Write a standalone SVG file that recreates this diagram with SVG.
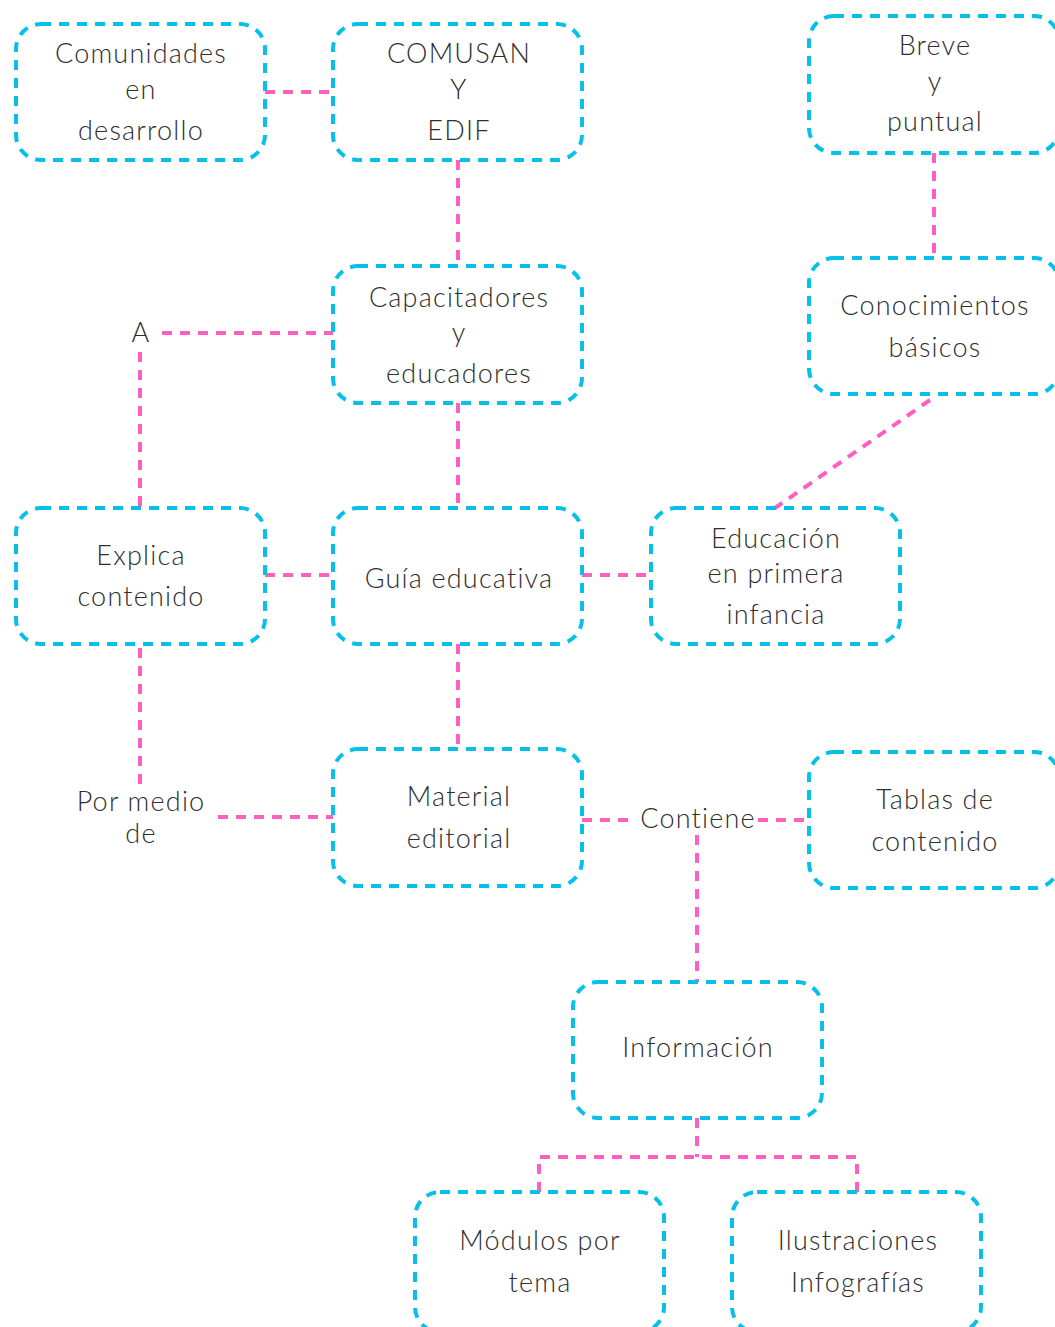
<svg xmlns="http://www.w3.org/2000/svg" width="1055" height="1327" viewBox="0 0 1055 1327">
<style>
.box{fill:none;stroke:#06c0ea;stroke-width:4;stroke-dasharray:10 8}
.con{fill:none;stroke:#ff5fc0;stroke-width:4;stroke-dasharray:10 8}
text{font-family:Lato,"Liberation Sans",sans-serif;font-weight:300;font-size:27px;letter-spacing:1.2px;fill:#2e2e2e;text-anchor:middle}
</style>
<rect width="1055" height="1327" fill="#ffffff"/>
<g id="connectors">
<path class="con" d="M265 92H333"/>
<path class="con" d="M458 160V266"/>
<path class="con" d="M934 153V258"/>
<path class="con" d="M162 333H333"/>
<path class="con" d="M140 352V508"/>
<path class="con" d="M458 403V508"/>
<path class="con" d="M265 575H333"/>
<path class="con" d="M582 575H651"/>
<path class="con" d="M930 400L775 508"/>
<path class="con" d="M140 648V785"/>
<path class="con" d="M218 817H333"/>
<path class="con" d="M458 644V749"/>
<path class="con" d="M582 820H635"/>
<path class="con" d="M758 820H809"/>
<path class="con" d="M697 835V982"/>
<path class="con" d="M697 1118V1157"/>
<path class="con" d="M539 1192V1157H857V1192"/>
</g>
<g id="n-comunidades"><rect class="box" x="16" y="24" width="249" height="136" rx="25"/><text x="141" y="63">Comunidades</text><text x="141" y="99">en</text><text x="141" y="140">desarrollo</text></g>
<g id="n-comusan"><rect class="box" x="333" y="24" width="249" height="136" rx="25"/><text x="459" y="63">COMUSAN</text><text x="459" y="99">Y</text><text x="459" y="140">EDIF</text></g>
<g id="n-breve"><rect class="box" x="809" y="16" width="250" height="137" rx="25"/><text x="935" y="55">Breve</text><text x="935" y="91">y</text><text x="935" y="131">puntual</text></g>
<g id="n-capacitadores"><rect class="box" x="333" y="266" width="249" height="137" rx="25"/><text x="459" y="307">Capacitadores</text><text x="459" y="342">y</text><text x="459" y="383">educadores</text></g>
<g id="n-conocimientos"><rect class="box" x="809" y="258" width="250" height="136" rx="25"/><text x="935" y="315">Conocimientos</text><text x="935" y="357">básicos</text></g>
<g id="n-a"><text x="141" y="342">A</text></g>
<g id="n-explica"><rect class="box" x="16" y="508" width="249" height="136" rx="25"/><text x="141" y="565">Explica</text><text x="141" y="606">contenido</text></g>
<g id="n-guia"><rect class="box" x="333" y="508" width="249" height="136" rx="25"/><text x="459" y="588">Guía educativa</text></g>
<g id="n-educacion"><rect class="box" x="651" y="508" width="249" height="136" rx="25"/><text x="776" y="548">Educación</text><text x="776" y="583">en primera</text><text x="776" y="624">infancia</text></g>
<g id="n-pormedio"><text x="141" y="811">Por medio</text><text x="141" y="843">de</text></g>
<g id="n-material"><rect class="box" x="333" y="749" width="249" height="137" rx="25"/><text x="459" y="806">Material</text><text x="459" y="848">editorial</text></g>
<g id="n-contiene"><text x="698" y="828">Contiene</text></g>
<g id="n-tablas"><rect class="box" x="809" y="752" width="250" height="136" rx="25"/><text x="935" y="809">Tablas de</text><text x="935" y="851">contenido</text></g>
<g id="n-informacion"><rect class="box" x="573" y="982" width="249" height="136" rx="25"/><text x="698" y="1057">Información</text></g>
<g id="n-modulos"><rect class="box" x="415" y="1192" width="249" height="140" rx="25"/><text x="540" y="1250">Módulos por</text><text x="540" y="1292">tema</text></g>
<g id="n-ilustraciones"><rect class="box" x="732" y="1192" width="249" height="140" rx="25"/><text x="858" y="1250">Ilustraciones</text><text x="858" y="1292">Infografías</text></g>
</svg>
